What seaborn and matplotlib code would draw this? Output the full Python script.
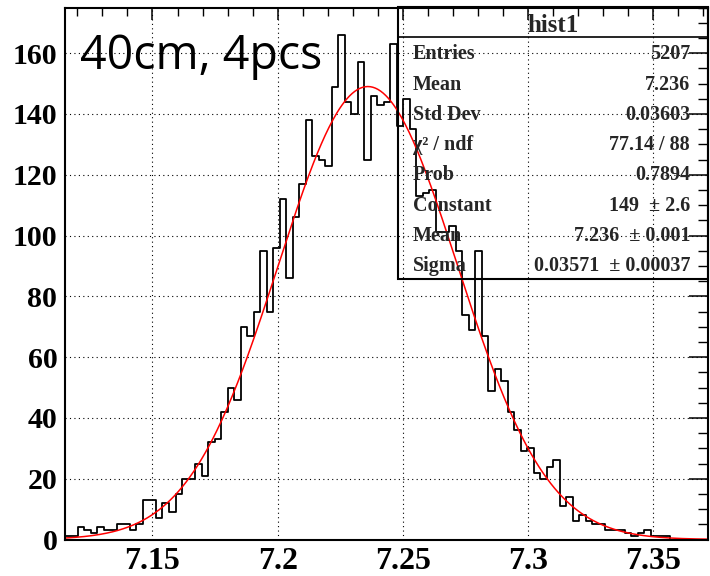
import numpy as np
import pandas as pd
import matplotlib
matplotlib.use("Agg")
import matplotlib.pyplot as plt
import seaborn as sns
from matplotlib.ticker import MultipleLocator, FuncFormatter
from matplotlib.patches import Rectangle
from matplotlib.lines import Line2D

# bin contents (99 bins, width 0.0026, starting at 7.115)
counts = [1, 1, 4, 3, 2, 4, 3, 3, 5, 5, 3, 5, 13, 13, 7, 12, 9, 15, 20, 20,
          25, 21, 32, 33, 42, 50, 46, 70, 67, 75, 95, 75, 96, 112, 86, 106, 117, 138, 126, 125,
          123, 149, 166, 144, 140, 157, 125, 146, 143, 144, 163, 136, 145, 135, 113, 114, 115, 101, 101, 103,
          95, 74, 69, 95, 67, 49, 56, 52, 42, 36, 29, 30, 22, 20, 24, 26, 11, 14, 6, 8,
          6, 5, 5, 3, 3, 3, 2, 1, 2, 3, 1, 1, 1, 0, 0, 0, 0, 0, 0]
x_min = 7.115
bin_width = 0.0026
x_max = 7.3718
y_max = 175

# gaus fit parameters from the stats box
fit_constant = 149
fit_mean = 7.236
fit_sigma = 0.03571

stat_title = "hist1"
stat_labels = ["Entries", "Mean", "Std Dev", "χ² / ndf", "Prob", "Constant", "Mean", "Sigma"]
stat_values = ["5207", "7.236", "0.03603", "77.14 / 88", "0.7894",
               "149  ± 2.6", "7.236  ± 0.001", "0.03571  ± 0.00037"]

n_bins = len(counts)
centers = x_min + bin_width * (np.arange(n_bins) + 0.5)
df = pd.DataFrame({"x": centers, "n": counts})

sns.set_theme(style="white")
plt.rcParams['font.family'] = ['Liberation Serif', 'DejaVu Serif']
plt.rcParams['font.weight'] = 'bold'

W, H = 710, 576
fig = plt.figure(figsize=(W / 100, H / 100), dpi=100)
ax = fig.add_axes([64.8 / W, 36.5 / H, (708 - 64.8) / W, (539.5 - 7.5) / H])

sns.histplot(data=df, x="x", weights="n", bins=n_bins,
             binrange=(x_min, x_min + bin_width * n_bins), element="step", fill=False,
             color="black", linewidth=1.3, ax=ax)

xs = np.linspace(x_min, x_max, 500)
ys = fit_constant * np.exp(-0.5 * ((xs - fit_mean) / fit_sigma) ** 2)
ax.plot(xs, ys, color="red", linewidth=1.1)

ax.set_xlim(x_min, x_max)
ax.set_ylim(0, y_max)
ax.set_xlabel("")
ax.set_ylabel("")

ax.xaxis.set_major_locator(MultipleLocator(0.05))
ax.xaxis.set_minor_locator(MultipleLocator(0.01))
ax.yaxis.set_major_locator(MultipleLocator(20))
ax.yaxis.set_minor_locator(MultipleLocator(5))
ax.xaxis.set_major_formatter(FuncFormatter(lambda v, p: f"{v:g}"))

ax.tick_params(which="both", direction="in", top=True, right=True, colors="black")
ax.tick_params(axis="x", which="major", length=8.4, width=1.1, labelsize=23, pad=5.5)
ax.tick_params(axis="x", which="minor", length=5.5, width=1.0)
ax.tick_params(axis="y", which="major", length=13.5, width=1.1, labelsize=21.5, pad=5.4)
ax.tick_params(axis="y", which="minor", length=7, width=1.0)
for lab in ax.get_xticklabels() + ax.get_yticklabels():
    lab.set_fontweight("bold")

ax.grid(True, which="major", color="black", linestyle=(0, (1, 3)), linewidth=0.8)
for s in ax.spines.values():
    s.set_color("black")
    s.set_linewidth(1.5)

fig.text(80 / W, 1 - 56 / H, "40cm, 4pcs", family="Open Sans", fontweight="normal",
         fontsize=33.5, va="center", ha="left", color="black")

# stats box
bx0, bx1, by_top, by_bot, by_sep = 398.3, 708.3, 7.3, 279.3, 37.3
fig.patches.append(Rectangle((bx0 / W, 1 - by_bot / H), (bx1 - bx0) / W, (by_bot - by_top) / H,
                             fill=False, edgecolor="black", linewidth=1.5,
                             transform=fig.transFigure, figure=fig))
fig.lines.append(Line2D([bx0 / W, bx1 / W], [1 - by_sep / H, 1 - by_sep / H],
                        color="black", linewidth=1.2, transform=fig.transFigure, figure=fig))
fig.text((bx0 + bx1) / 2 / W, 1 - 25 / H, stat_title, ha="center", va="center",
         fontsize=18, fontweight="bold")
row_h = (by_bot - by_sep) / len(stat_labels)
for i, (lab, val) in enumerate(zip(stat_labels, stat_values)):
    yc = 1 - (by_sep + 2 + row_h * (i + 0.5)) / H
    fig.text(413 / W, yc, lab, ha="left", va="center", fontsize=14.5, fontweight="bold")
    fig.text(690 / W, yc, val, ha="right", va="center", fontsize=14.5, fontweight="bold")

fig.savefig("out.png", dpi=100)
